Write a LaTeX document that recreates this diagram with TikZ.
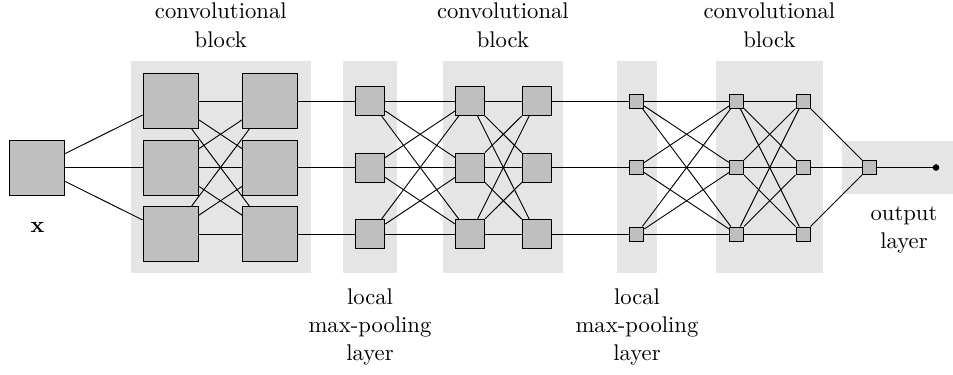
\documentclass[tikz,border=0pt]{standalone}
\begin{document}
\begin{tikzpicture}[x=0.483pt,y=-0.483pt,
  unitbox/.style={draw=black,fill=gray!50,inner sep=0pt,line width=0.45pt},
  bigunit/.style={unitbox,minimum size=26.6pt},
  midunit/.style={unitbox,minimum size=14pt},
  smallunit/.style={unitbox,minimum size=6.8pt},
  bgarea/.style={fill=gray!20},
  lbl/.style={align=center,inner sep=0pt,font=\fontsize{10.95}{13.6}\selectfont},
  conn/.style={line width=0.45pt}]
\useasboundingbox (0,0) rectangle (953,374);
% background areas
\fill[bgarea] (131,61) rectangle (310.7,273);
\fill[bgarea] (342.7,61) rectangle (397,273);
\fill[bgarea] (443,61) rectangle (562.7,273);
\fill[bgarea] (617.3,61) rectangle (656.7,273);
\fill[bgarea] (716,61) rectangle (822.7,273);
\fill[bgarea] (842,140.7) rectangle (953,194.3);
% units
\node[bigunit] (in) at (37.3,167.5) {};
\foreach \r/\y in {1/101,2/167.5,3/234} {
  \node[bigunit] (a\r) at (170.7,\y) {};
  \node[bigunit] (b\r) at (270.3,\y) {};
  \node[midunit] (p\r) at (370.3,\y) {};
  \node[midunit] (c\r) at (470,\y) {};
  \node[midunit] (d\r) at (536.7,\y) {};
  \node[smallunit] (q\r) at (636.7,\y) {};
  \node[smallunit] (e\r) at (736.5,\y) {};
  \node[smallunit] (f\r) at (803,\y) {};
}
\node[smallunit] (out) at (869.5,167.5) {};
\node[circle,fill=black,inner sep=0pt,minimum size=3.2pt] (dot) at (936,167.5) {};
% connections
\foreach \i in {1,2,3} {
  \draw[conn] (in) -- (a\i);
  \draw[conn] (b\i) -- (p\i);
  \draw[conn] (d\i) -- (q\i);
  \draw[conn] (f\i) -- (out);
  \foreach \j in {1,2,3} {
    \draw[conn] (a\i) -- (b\j);
    \draw[conn] (p\i) -- (c\j);
    \draw[conn] (c\i) -- (d\j);
    \draw[conn] (q\i) -- (e\j);
    \draw[conn] (e\i) -- (f\j);
  }
}
\draw[conn] (out) -- (dot.center);
% labels
\node[lbl,anchor=north] (l1) at (220.8,2.8) {convolutional\\block};
\node[lbl,anchor=north] (l2) at (502.9,2.8) {convolutional\\block};
\node[lbl,anchor=north] (l3) at (769.4,2.8) {convolutional\\block};
\node[lbl,anchor=north] (l4) at (370,288.3) {local\\max-pooling\\layer};
\node[lbl,anchor=north] (l5) at (637,288.3) {local\\max-pooling\\layer};
\node[lbl,anchor=north] (l6) at (904,206) {output\\layer};
\node[lbl] (xl) at (37.5,227.7) {$\mathbf{x}$};
\end{tikzpicture}
\end{document}
